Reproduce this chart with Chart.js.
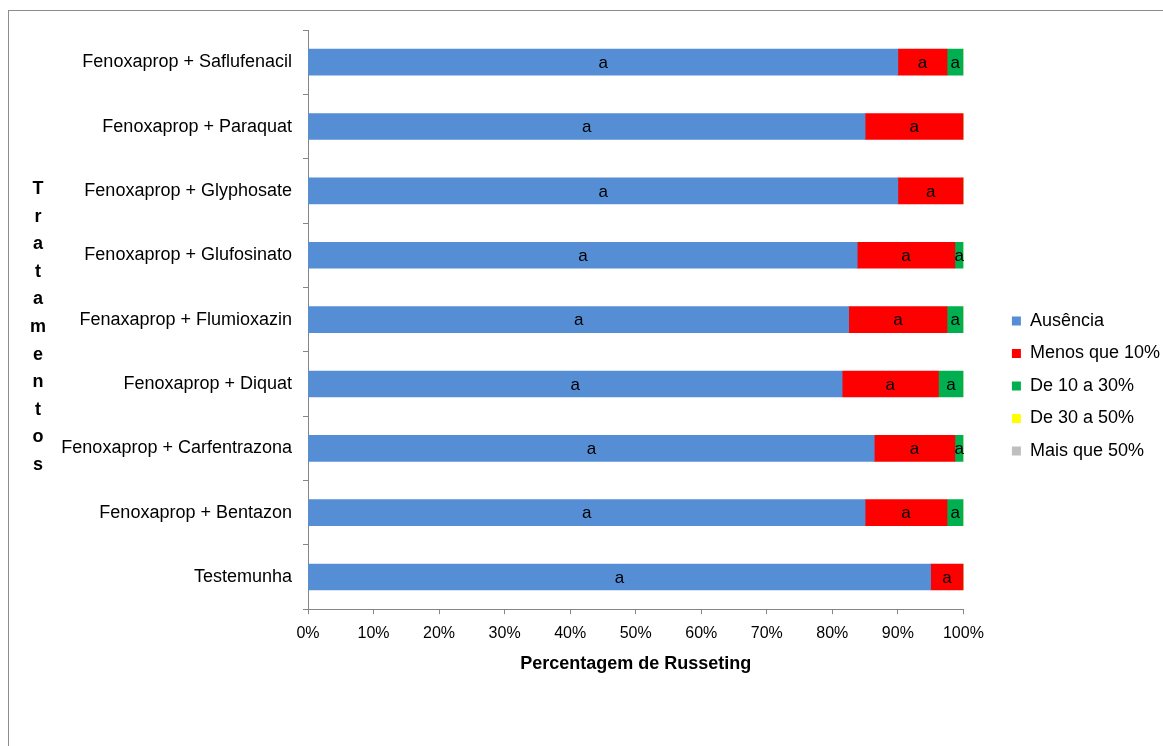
<!DOCTYPE html>
<html>
<head>
<meta charset="utf-8">
<script src="https://cdn.jsdelivr.net/npm/chart.js@4.4.1/dist/chart.umd.min.js"></script>
<style>
  body { margin: 0; background: #fff; overflow: hidden; }
  .frame { position: absolute; left: 8px; top: 10px; width: 1170px; height: 760px; border: 1px solid #8c8c8c; }
  .wrap { position: absolute; left: 0; top: 0; width: 1170px; height: 746px; }
</style>
</head>
<body>
<div class="frame"></div>
<div class="wrap"><canvas id="graph"></canvas></div>
<script>
let tratamentos = [
  'Fenoxaprop + Saflufenacil',
  'Fenoxaprop + Paraquat',
  'Fenoxaprop + Glyphosate',
  'Fenoxaprop + Glufosinato',
  'Fenaxaprop + Flumioxazin',
  'Fenoxaprop + Diquat',
  'Fenoxaprop + Carfentrazona',
  'Fenoxaprop + Bentazon',
  'Testemunha'
]
let ausencia = [90, 85, 90, 83.8, 82.5, 81.5, 86.4, 85, 95]
let menos10 = [7.5, 15, 10, 14.9, 15, 14.7, 12.3, 12.5, 5]
let de10a30 = [2.5, 0, 0, 1.3, 2.5, 3.8, 1.3, 2.5, 0]
let de30a50 = [0, 0, 0, 0, 0, 0, 0, 0, 0]
let mais50 = [0, 0, 0, 0, 0, 0, 0, 0, 0]
let xTicks = [0, 10, 20, 30, 40, 50, 60, 70, 80, 90, 100]
let letras = 'Tratamentos'.split('')

const fontName = "'Liberation Sans', Arial, sans-serif"
const axisGray = '#868686'

// letra "a" no centro de cada segmento
const segmentLabels = {
  id: 'segmentLabels',
  afterDatasetsDraw(chart) {
    const c = chart.ctx
    c.save()
    c.font = '17px ' + fontName
    c.fillStyle = '#000'
    c.textAlign = 'center'
    c.textBaseline = 'middle'
    chart.data.datasets.forEach((ds, i) => {
      chart.getDatasetMeta(i).data.forEach((bar, j) => {
        if (!ds.data[j]) return
        let mid = (bar.x + bar.base) / 2
        c.fillText('a', mid, bar.y + 1)
      })
    })
    c.restore()
  }
}

// titulo vertical, letra por letra
const sideTitle = {
  id: 'sideTitle',
  afterDraw(chart) {
    const c = chart.ctx
    c.save()
    c.font = 'bold 18px ' + fontName
    c.fillStyle = '#000'
    c.textAlign = 'center'
    c.textBaseline = 'middle'
    letras.forEach((l, i) => c.fillText(l, 38, 189 + i * 27.6))
    c.restore()
  }
}

const ctx = document.getElementById('graph')

new Chart(ctx, {
  type: 'bar',
  data: {
    labels: tratamentos,
    datasets: [
      { label: 'Ausência', data: ausencia, backgroundColor: '#558ED5' },
      { label: 'Menos que 10%', data: menos10, backgroundColor: '#FF0000' },
      { label: 'De 10 a 30%', data: de10a30, backgroundColor: '#00B050' },
      { label: 'De 30 a 50%', data: de30a50, backgroundColor: '#FFFF00' },
      { label: 'Mais que 50%', data: mais50, backgroundColor: '#BFBFBF' }
    ].map(d => Object.assign(d, { yAxisID: 'y', barThickness: 26, borderWidth: 0 }))
  },
  options: {
    indexAxis: 'y',
    responsive: true,
    maintainAspectRatio: false,
    animation: false,
    layout: {
      padding: { left: 60, top: 30, right: 0, bottom: 4 }
    },
    plugins: {
      tooltip: { enabled: false },
      legend: {
        position: 'right',
        labels: {
          boxWidth: 9,
          boxHeight: 9,
          padding: 14.5,
          color: '#000',
          font: { family: fontName, size: 18 }
        }
      }
    },
    scales: {
      x: {
        stacked: true,
        min: 0,
        max: 100,
        afterBuildTicks: scale => { scale.ticks = xTicks.map(v => ({ value: v })) },
        grid: { drawOnChartArea: false, tickLength: 5, color: axisGray },
        border: { color: axisGray },
        ticks: {
          padding: 10,
          color: '#000',
          font: { family: fontName, size: 16 },
          callback: v => v + '%'
        },
        title: {
          display: true,
          text: 'Percentagem de Russeting',
          color: '#000',
          font: { family: fontName, size: 18, weight: 'bold' },
          padding: { top: 0, bottom: 67 }
        }
      },
      y: {
        stacked: true,
        offset: true,
        grid: { offset: true, drawOnChartArea: false, tickLength: 5, color: axisGray },
        border: { color: axisGray },
        ticks: {
          padding: 11,
          color: '#000',
          font: { family: fontName, size: 18 }
        },
        afterFit: scale => { scale.width = 248 }
      },
      gap: {
        axis: 'y',
        type: 'linear',
        position: 'right',
        grid: { display: false },
        border: { display: false },
        ticks: { display: false },
        afterFit: scale => { scale.width = 34 }
      }
    }
  },
  plugins: [segmentLabels, sideTitle]
})
</script>
</body>
</html>
